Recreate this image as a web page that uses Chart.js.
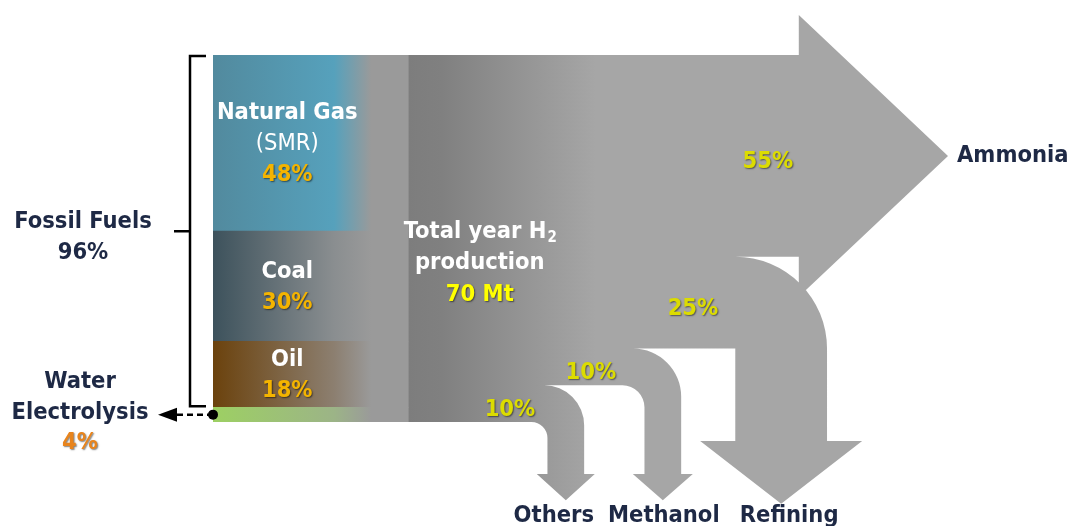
<!DOCTYPE html>
<html>
<head>
<meta charset="utf-8">
<title>Hydrogen production and use</title>
<script src="https://cdn.jsdelivr.net/npm/chart.js@4"></script>
<style>
  html, body { margin: 0; padding: 0; background: #fff; }
  #wrap { width: 1071px; height: 526px; position: relative; }
</style>
</head>
<body>
<div id="wrap"><canvas id="h2Chart"></canvas></div>
<script>
// production routes, top of the column first (% of yearly H2)
const sources = ['Natural Gas', 'Coal', 'Oil', 'Water Electrolysis'];
const sourceShare = [48, 30, 18, 4];
const sourceLines = [['Natural Gas', '(SMR)'], ['Coal'], ['Oil'], ['Water', 'Electrolysis']];
const fossilIdx = [0, 1, 2];

// end uses, top band first (% of yearly H2)
const uses = ['Ammonia', 'Refining', 'Methanol', 'Others'];
const useShare = [55, 25, 10, 10];

const totalMt = 70;

// look
const FONT = '"DejaVu Sans Condensed", "DejaVu Sans", sans-serif';
const FS = 23.5;
const NAVY = '#1e2945';
const sourceColors = [
  ['#528a9e', '#56a1bc'],
  ['#3d525c', '#8a8e90'],
  ['#6b420d', '#8c7f70'],
  ['#9dd063', '#9cb487']
];
const COL_X = 13.3;      // column centre on the x scale (0..100)
const COL_W = 195;       // column width, px

// arrow layout, x in scale units, sizes in px, head/tip y in value units
const useLayout = [
  { end: 79.7, head: 40 },
  { at: 77.3, rIn: 0, headY: -5.2, tipY: -22.3, half: 81 },
  { at: 61.2, rOut: 48, rIn: 22, headY: -14.2, tipY: -21.3, half: 30 },
  { at: 48.0, rOut: 40, rIn: 16, headY: -14.2, tipY: -21.3, half: 29 }
];
const useLabelX = [75.5, 65.3, 51.4, 40.4];
const useNameDx = [0, 8, 1, -12];

function bands(shares) {
  let top = 100;
  return shares.map(s => { const b = { hi: top, lo: top - s }; top -= s; return b; });
}
const srcBands = bands(sourceShare);
const useBands = bands(useShare);

function columnFill(chart, i) {
  const area = chart.chartArea;
  if (!area) return sourceColors[i][0];
  const x0 = chart.scales.x.getPixelForValue(COL_X) - COL_W / 2;
  const g = chart.ctx.createLinearGradient(x0, 0, x0 + COL_W, 0);
  g.addColorStop(0, sourceColors[i][0]);
  g.addColorStop(0.62, sourceColors[i][1]);
  g.addColorStop(0.81, '#9a9a9a');
  g.addColorStop(1, '#9a9a9a');
  return g;
}

// bottom of the column first so the stack builds upwards
const order = sources.map((_, i) => i).reverse();
const datasets = order.map(i => ({
  label: sources[i],
  data: [{ x: COL_X, y: sourceShare[i] }],
  backgroundColor: c => columnFill(c.chart, i),
  borderWidth: 0,
  barThickness: COL_W
}));

function text(ctx, str, x, y, o) {
  ctx.save();
  ctx.font = `${o.weight || 'bold'} ${o.size || FS}px ${FONT}`;
  ctx.fillStyle = o.color || NAVY;
  ctx.textAlign = o.align || 'center';
  ctx.textBaseline = 'middle';
  if (o.shadow) {
    ctx.shadowColor = 'rgba(0,0,0,0.5)';
    ctx.shadowOffsetX = 1;
    ctx.shadowOffsetY = 1;
    ctx.shadowBlur = 1.5;
  }
  ctx.fillText(str, x, y);
  ctx.restore();
}

const flows = {
  id: 'flows',
  beforeDatasetsDraw(chart) {
    const { ctx, chartArea: a, scales: { x, y } } = chart;
    const x0 = a.left;
    ctx.save();
    ctx.beginPath();
    useBands.forEach((b, i) => {
      const L = useLayout[i];
      const yT = y.getPixelForValue(b.hi), yB = y.getPixelForValue(b.lo);
      const w = yB - yT;
      if (L.end !== undefined) {
        const xe = x.getPixelForValue(L.end);
        ctx.moveTo(x0, yT);
        ctx.lineTo(xe, yT);
        ctx.lineTo(xe, yT - L.head);
        ctx.lineTo(a.right, (yT + yB) / 2);
        ctx.lineTo(xe, yB + L.head);
        ctx.lineTo(xe, yB);
        ctx.lineTo(x0, yB);
        ctx.closePath();
        return;
      }
      const xc = x.getPixelForValue(L.at);
      const xi = xc - w / 2, xo = xc + w / 2;
      const rOut = L.rOut || w, rIn = L.rIn;
      const hy = y.getPixelForValue(L.headY), ty = y.getPixelForValue(L.tipY);
      ctx.moveTo(x0, yT);
      ctx.lineTo(xo - rOut, yT);
      ctx.arc(xo - rOut, yT + rOut, rOut, -Math.PI / 2, 0);
      ctx.lineTo(xo, hy);
      ctx.lineTo(xc + L.half, hy);
      ctx.lineTo(xc, ty);
      ctx.lineTo(xc - L.half, hy);
      ctx.lineTo(xi, hy);
      if (rIn > 0) {
        ctx.lineTo(xi, yB + rIn);
        ctx.arc(xi - rIn, yB + rIn, rIn, 0, -Math.PI / 2, true);
      } else {
        ctx.lineTo(xi, yB);
      }
      ctx.lineTo(x0, yB);
      ctx.closePath();
    });
    const g = ctx.createLinearGradient(x.getPixelForValue(26.5), 0, x.getPixelForValue(52), 0);
    g.addColorStop(0, '#7d7d7d');
    g.addColorStop(0.18, '#808080');
    g.addColorStop(1, '#a6a6a6');
    ctx.fillStyle = g;
    ctx.fill();
    ctx.restore();
  },
  afterDatasetsDraw(chart) {
    const { ctx, chartArea: a, scales: { x, y } } = chart;

    // labels inside the production column
    const lx = x.getPixelForValue(10.1);
    srcBands.forEach((b, i) => {
      if (!fossilIdx.includes(i)) return;
      const lines = sourceLines[i];
      const mid = y.getPixelForValue((b.hi + b.lo) / 2) + 1;
      const n = lines.length + 1;
      lines.forEach((s, k) => {
        const yy = mid + (k - (n - 1) / 2) * 31;
        text(ctx, s, lx, yy, { color: '#fff', weight: s.startsWith('(') ? 'normal' : 'bold' });
      });
      text(ctx, sourceShare[i] + '%', lx, mid + ((n - 1) / 2) * 31, { color: '#f4b400', shadow: true });
    });

    // total in the trunk
    const tx = x.getPixelForValue(36.3), tm = y.getPixelForValue(50);
    ctx.save();
    ctx.font = `bold ${FS}px ${FONT}`;
    const wMain = ctx.measureText('Total year H').width;
    ctx.font = `bold 15px ${FONT}`;
    const wSub = ctx.measureText('2').width;
    ctx.restore();
    const startX = tx - (wMain + wSub) / 2;
    text(ctx, 'Total year H', startX, tm - 7, { color: '#fff', align: 'left' });
    text(ctx, '2', startX + wMain + 1, tm - 0.5, { color: '#fff', align: 'left', size: 15 });
    text(ctx, 'production', tx, tm + 24, { color: '#fff' });
    text(ctx, totalMt + ' Mt', tx, tm + 56, { color: '#ffff00', shadow: true });

    // shares on the use arrows
    useBands.forEach((b, i) => {
      const mid = y.getPixelForValue((b.hi + b.lo) / 2);
      text(ctx, useShare[i] + '%', x.getPixelForValue(useLabelX[i]), mid + 6, { color: '#dcdc00', shadow: true });
    });

    // use names
    const am = useBands[0];
    text(ctx, uses[0], a.right + 9, y.getPixelForValue((am.hi + am.lo) / 2), { align: 'left' });
    for (let i = 1; i < uses.length; i++) {
      text(ctx, uses[i], x.getPixelForValue(useLayout[i].at) + useNameDx[i], 516, {});
    }

    // bracket round the fossil part of the column
    const bTop = y.getPixelForValue(srcBands[0].hi) + 1;
    const bBot = y.getPixelForValue(srcBands[fossilIdx[fossilIdx.length - 1]].lo) - 1;
    const bx = a.left - 23;
    ctx.save();
    ctx.strokeStyle = '#000';
    ctx.lineWidth = 2.5;
    ctx.beginPath();
    ctx.moveTo(a.left - 7, bTop);
    ctx.lineTo(bx, bTop);
    ctx.lineTo(bx, bBot);
    ctx.lineTo(a.left - 7, bBot);
    ctx.moveTo(bx - 16, (bTop + bBot) / 2);
    ctx.lineTo(bx, (bTop + bBot) / 2);
    ctx.stroke();
    ctx.restore();

    const fossil = fossilIdx.reduce((s, i) => s + sourceShare[i], 0);
    text(ctx, 'Fossil Fuels', 83, 222, {});
    text(ctx, fossil + '%', 83, 253, {});

    // dashed pointer from the electrolysis slice
    const we = srcBands[3];
    const wy = y.getPixelForValue((we.hi + we.lo) / 2);
    ctx.save();
    ctx.strokeStyle = '#000';
    ctx.fillStyle = '#000';
    ctx.lineWidth = 2.5;
    ctx.setLineDash([6, 4]);
    ctx.beginPath();
    ctx.moveTo(a.left, wy);
    ctx.lineTo(a.left - 37, wy);
    ctx.stroke();
    ctx.setLineDash([]);
    ctx.beginPath();
    ctx.moveTo(a.left - 55, wy);
    ctx.lineTo(a.left - 36, wy - 7);
    ctx.lineTo(a.left - 36, wy + 7);
    ctx.closePath();
    ctx.fill();
    ctx.beginPath();
    ctx.arc(a.left, wy, 5, 0, Math.PI * 2);
    ctx.fill();
    ctx.restore();

    text(ctx, sourceLines[3][0], 80, 382, {});
    text(ctx, sourceLines[3][1], 80, 413, {});
    text(ctx, sourceShare[3] + '%', 80, 443, { color: '#e8841c', shadow: true });
  }
};

new Chart(document.getElementById('h2Chart'), {
  type: 'bar',
  data: { datasets },
  options: {
    responsive: true,
    maintainAspectRatio: false,
    animation: false,
    events: [],
    layout: { padding: { left: 213, right: 123, top: 55, bottom: 104 } },
    plugins: { legend: { display: false }, tooltip: { enabled: false } },
    scales: {
      x: { type: 'linear', min: 0, max: 100, offset: false, stacked: true, display: false },
      y: { type: 'linear', min: 0, max: 100, stacked: true, display: false }
    }
  },
  plugins: [flows]
});
</script>
</body>
</html>
